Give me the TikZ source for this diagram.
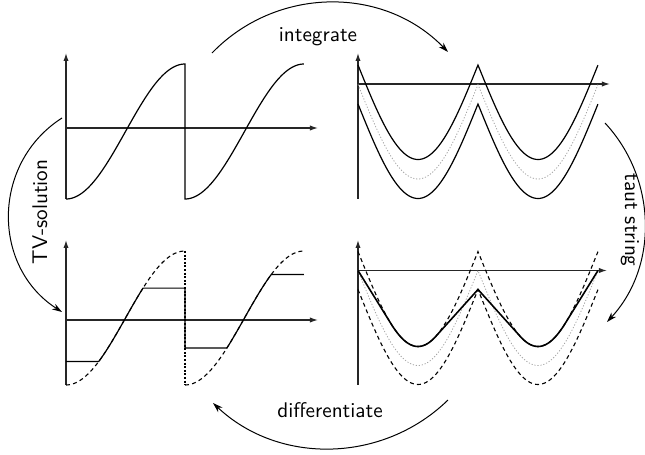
\documentclass[tikz,border=0pt]{standalone}
\usetikzlibrary{arrows.meta}
\begin{document}
\begin{tikzpicture}[x=0.5pt,y=-0.5pt,
  axis/.style={line width=0.6pt, draw=black!85, -{Latex[length=4pt,width=2.6pt]}},
  curve/.style={line width=0.6pt},
  string/.style={line width=0.8pt},
  ghost/.style={draw=black!35, line width=0.4pt, dash pattern=on 0.6pt off 0.9pt},
  dashcurve/.style={line width=0.55pt, dash pattern=on 2pt off 1.6pt},
  flow/.style={line width=0.5pt, -{Stealth[length=5pt,width=3.2pt]}},
  lbl/.style={font=\fontsize{10.6}{12}\sffamily, inner sep=0pt},
]
\useasboundingbox (0,0) rectangle (645,455);

% ---------- top-left: signal ----------
\draw[axis] (66,199) -- (66,53);
\draw[axis] (66,128) -- (318,128);
\draw[curve] plot[domain=0:1,samples=60] ({66+119*\x},{131.5+67.5*cos(180*\x)})
  -- (185,199) -- plot[domain=0:1,samples=60] ({185+119*\x},{131.5+67.5*cos(180*\x)});

% ---------- top-right: integral and tube ----------
\draw[axis] (358,199) -- (358,53);
\draw[axis] (358,84) -- (610,84);
\draw[ghost] plot[domain=0:2,samples=121] ({358+120*\x},{84.5+94.5*abs(sin(180*\x))});
\draw[curve] plot[domain=0:2,samples=121] ({358+120*\x},{65+94.5*abs(sin(180*\x))});
\draw[curve] plot[domain=0:2,samples=121] ({358+120*\x},{104+94.5*abs(sin(180*\x))});

% ---------- bottom-left: TV solution ----------
\draw[axis] (66,385) -- (66,240);
\draw[axis] (66,320) -- (318,320);
\draw[dashcurve] plot[domain=0:1,samples=60] ({66+119*\x},{318+67*cos(180*\x)});
\draw[dashcurve] plot[domain=0:1,samples=60] ({185+119*\x},{318+67*cos(180*\x)});
\draw[line width=0.55pt, dash pattern=on 1pt off 0.8pt] (185,251) -- (185,385);
\draw[curve] (66,361.5) -- plot[domain=0.2753:0.6473,samples=30] ({66+119*\x},{318+67*cos(180*\x)})
  -- (185,288.1) -- (185,348.1)
  -- plot[domain=0.3527:0.7247,samples=30] ({185+119*\x},{318+67*cos(180*\x)})
  -- (304,274.5);

% ---------- bottom-right: taut string ----------
\draw[axis] (358,385) -- (358,240);
\draw[axis] (358,270.5) -- (607,270.5);
\draw[ghost] plot[domain=0:2,samples=121] ({358+120*\x},{270.5+95*abs(sin(180*\x))});
\draw[dashcurve] plot[domain=0:2,samples=121] ({358+120*\x},{251.5+95*abs(sin(180*\x))});
\draw[dashcurve] plot[domain=0:2,samples=121] ({358+120*\x},{289.5+95*abs(sin(180*\x))});
\draw[string] (358,270.5)
  -- plot[domain=0.2753:0.6473,samples=30] ({358+120*\x},{251.5+95*abs(sin(180*\x))})
  -- (478,289.5)
  -- plot[domain=1.3527:1.7247,samples=30] ({358+120*\x},{251.5+95*abs(sin(180*\x))})
  -- (598,270.5);

% ---------- flow arrows ----------
\coordinate (i0) at (212,53);  \coordinate (i1) at (448,52);
\coordinate (d0) at (448,400); \coordinate (d1) at (213,403);
\coordinate (s0) at (62,118);  \coordinate (s1) at (62,312);
\coordinate (t0) at (605,123); \coordinate (t1) at (607,322);
\draw[flow] (i0) .. controls (276.5,-13.7) and (383.5,-14.7) .. (i1);
\draw[flow] (d0) .. controls (383.1,463.2) and (279,465.2) .. (d1);
\draw[flow] (s0) .. controls (-8.6,163.2) and (-8.6,266.8) .. (s1);
\draw[flow] (t0) .. controls (656.8,178.6) and (658.7,266.2) .. (t1);

\node[lbl] (lint) at (318,37) {integrate};
\node[lbl] (ldif) at (330,410) {differentiate};
\node[lbl, rotate=90] (ltv) at (40,212) {TV-solution};
\node[lbl, rotate=-90] (ltaut) at (630,220) {taut string};
\end{tikzpicture}
\end{document}
